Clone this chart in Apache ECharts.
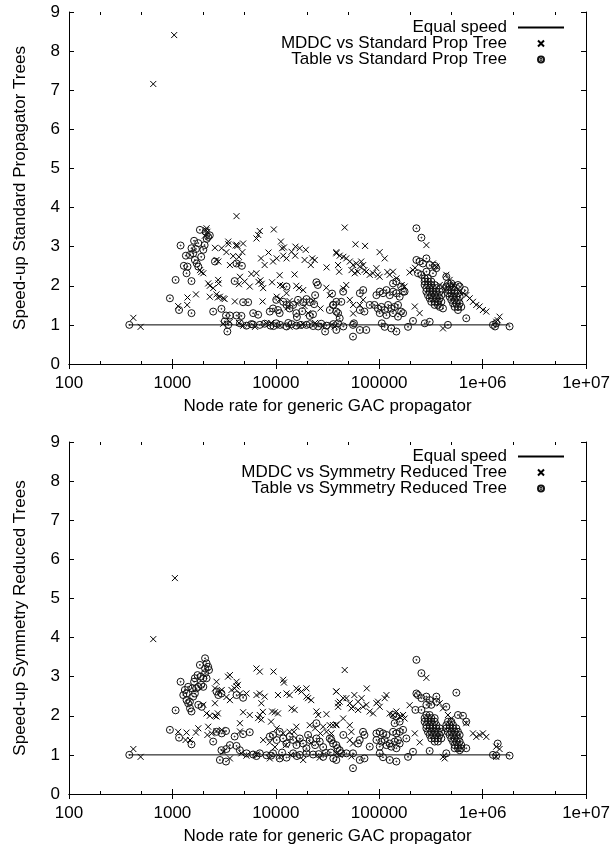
<!DOCTYPE html>
<html>
<head>
<meta charset="utf-8">
<script src="https://cdn.jsdelivr.net/npm/echarts@6/dist/echarts.min.js"></script>
<style>
  html, body { margin: 0; padding: 0; background: #fff; }
  #main { width: 612px; height: 849px; }
</style>
</head>
<body>
<div id="main"></div>
<script>
// tick labels
var xTickLabels = ['100', '1000', '10000', '100000', '1e+06', '1e+07'];
var yTickLabels = ['0', '1', '2', '3', '4', '5', '6', '7', '8', '9'];
var legendTop = ['Equal speed', 'MDDC vs Standard Prop Tree', 'Table vs Standard Prop Tree'];
var legendBottom = ['Equal speed', 'MDDC vs Symmetry Reduced Tree', 'Table vs Symmetry Reduced Tree'];

// equal speed line
var equalLine = [[383, 1], [1824000, 1]];

// top: MDDC vs standard prop tree
var mddcStd = [
  [419,1.18],[493,0.95],[653,7.16],[1040,8.41],[4170,3.78],
  [1137,1.48],[1390,1.51],[1400,1.70],[1690,1.78],
  [2140,3.47],[2180,3.38],[2060,3.28],[2120,3.42],
  [2580,2.97],[2990,2.96],[3470,3.13],[3470,3.06],[4100,3.03],[4250,3.02],[4170,3.05],[4830,3.08],
  [3330,2.86],[3870,2.76],[4400,2.74],[4750,2.86],
  [2670,2.66],[2780,2.62],[3600,2.53],[4300,2.57],
  [1990,2.32],[1850,2.40],[1900,2.35],[2220,2.06],[2300,2.00],[2770,2.15],[2800,2.06],[2480,1.94],
  [2670,1.78],[2880,1.72],[3100,1.68],[3200,1.66],[2750,1.70],[2300,1.72],
  [4020,1.60],[4400,2.04],[4500,2.23],[5000,2.11],[5600,1.98],
  [6500,3.21],[6760,3.30],[7000,3.40],[9570,3.44],
  [7200,2.70],[7800,2.53],[6500,2.32],[6800,2.10],[7100,2.14],[7300,2.05],[7550,1.94],[7450,1.60],
  [9200,2.09],[9400,2.62],[10200,2.70],[10900,2.27],
  [11200,3.13],[11500,2.96],[12000,2.98],[11800,2.77],[12700,2.70],
  [14200,2.87],[15500,3.00],[17000,2.96],[15400,2.77],[19500,2.92],[19000,2.66],
  [22500,2.70],[23800,2.66],[21800,2.53],[38500,2.83],[31000,2.47],[40000,2.53],[41000,2.36],
  [15200,2.29],[11000,2.02],[11700,2.00],[15800,2.00],[16800,1.94],[18400,1.89],
  [12700,1.81],[10200,1.72],[11000,1.66],[13600,1.61],[30800,1.95],[33300,1.76],[27000,1.42],[20500,1.30],
  [13000,1.45],[16000,1.55],[19000,1.48],[23000,1.62],[5800,2.30],[8500,2.85],
  [3100,1.03],[3600,1.08],[4400,1.05],[4850,0.98],[6300,0.95],[8100,1.04],[11000,0.98],[13600,0.95],[18400,1.02],[28700,0.98],
  [9000,1.05],[17000,0.97],[24000,1.05],
  [46400,3.49],[59000,3.06],[73000,3.02],[101000,2.86],[113000,2.70],
  [38500,2.86],[41500,2.77],[45000,2.74],[48000,2.70],
  [52000,2.62],[56000,2.53],[60000,2.57],[65000,2.49],[67000,2.62],[70000,2.53],[75000,2.36],[81000,2.28],
  [87000,2.32],[94000,2.45],[97000,2.28],[101000,2.23],[54000,2.40],[58000,2.32],[62000,2.36],[72000,2.40],
  [120000,2.35],[126000,2.28],[136000,2.36],[147000,2.19],
  [197000,2.34],[212000,2.40],[222000,2.46],[286000,3.04],
  [48000,2.02],[45000,1.93],
  [52000,1.64],[56000,1.51],[65000,1.51],[70000,1.64],[56000,1.29],
  [221000,1.47],[246000,1.30],[414000,0.91],
  [331100,2.57],[357300,2.49],[445700,2.28],[479800,2.15],[517600,2.02],[599800,1.85],[645700,1.81],
  [695000,1.76],[750000,1.68],[807000,1.59],[869000,1.51],[935000,1.47],[1007000,1.38],[1086000,1.34],
  [1459000,1.21],[1400000,1.12],[1355000,1.08],
  [165000,2.02],[176000,1.98],[385000,2.02],[414000,1.98],[430000,1.89],
  [34500,1.00],[37000,0.96]
];

// top: table vs standard prop tree
var tableStd = [
  [383,1.00],[946,1.68],[1160,1.38],[1530,1.30],[1074,2.15],[1530,2.12],[1200,3.03],
  [1370,2.32],[1290,2.51],[1400,2.49],[1350,2.77],[1480,2.79],[1590,2.83],
  [1530,2.96],[1690,2.94],[1620,3.15],[1780,3.09],[1720,2.57],[1650,2.66],
  [1845,3.43],[2100,3.38],[2220,3.25],[2300,3.29],[2150,3.20],
  [2050,3.04],[1990,2.92],[1900,2.74],[1780,2.49],
  [2580,2.62],[4170,2.57],[4700,2.51],[4000,2.12],[4830,1.58],[5400,1.58],
  [2480,1.34],[2980,1.41],[3300,1.24],[3600,1.24],[4170,1.24],[4650,1.23],
  [3210,1.09],[3470,1.00],[3400,0.83],
  [6040,1.30],[6750,1.26],
  [4500,1.04],[5200,0.98],[6000,1.01],[7000,1.00],[7800,1.03],[8900,0.98],[10100,1.04],[11000,1.00],
  [12700,0.96],[14200,1.02],[15800,0.98],[19800,1.00],[21300,1.02],[25700,0.96],[30900,0.98],[36000,1.02],
  [5800,1.02],[9500,0.97],[13200,1.05],[17500,1.00],[23000,0.97],[27500,1.03],[16000,1.20],[18000,1.35],
  [8750,1.34],[9400,1.42],[10500,1.38],[10900,1.30],
  [10100,1.64],[11800,1.59],[12700,1.51],[13600,1.42],[14700,1.51],[15800,1.30],
  [16400,1.64],[18400,1.58],[19800,1.66],[21300,1.58],[23500,1.53],
  [24700,2.09],[25500,2.02],[24000,1.76],
  [21300,1.23],[22900,1.27],
  [30000,0.83],[38500,0.87],[40000,1.04],
  [33300,1.38],[35800,1.51],[38500,1.59],[12700,1.98],
  [229000,3.47],[256000,3.23],[286000,2.70],
  [229000,2.66],[246000,2.62],[265000,2.57],[308000,2.53],[345000,2.51],[357000,2.45],[331000,2.32],
  [286000,2.36],[256000,2.28],[237000,2.32],
  [275000,2.19],[296000,2.19],
  [275000,2.11],[296000,2.11],[319000,2.11],
  [275000,2.02],[296000,2.02],[319000,2.02],[344000,2.02],
  [285800,1.94],[307600,1.94],[331100,1.94],[357300,1.94],
  [285800,1.85],[307600,1.85],[331100,1.85],[357300,1.85],[384600,1.85],
  [296000,1.76],[319000,1.76],[344000,1.76],[370000,1.76],[399000,1.76],
  [307600,1.68],[331100,1.68],[357300,1.68],[384600,1.68],
  [319000,1.59],[344000,1.59],[370000,1.59],[399000,1.59],
  [344000,1.51],[370000,1.51],
  [462000,2.06],[498000,2.06],
  [445700,1.98],[479800,1.98],[517600,1.98],
  [462000,1.89],[498000,1.89],[537000,1.89],
  [462000,1.81],[498000,1.81],[537000,1.81],[578000,1.81],
  [479800,1.72],[517600,1.72],[557200,1.72],[599800,1.72],
  [498000,1.64],[537000,1.64],[578000,1.64],
  [517600,1.55],[557200,1.55],[599800,1.55],
  [537000,1.46],[578000,1.46],[622000,1.46],
  [578000,1.38],
  [445700,2.23],[578000,2.02],[600000,1.98],[672000,1.89],[695000,1.17],[462000,1.00],[384600,1.46],[414000,1.42],
  [308000,1.08],[276000,1.04],[212300,1.10],[190000,0.95],
  [1259000,1.00],[1355000,1.04],[1320000,0.96],[1824000,0.96],
  [146600,0.83],[131000,0.91],[113000,0.95],[106000,1.04],
  [93970,1.76],[101200,1.85],[108900,1.81],[117500,1.89],[126500,1.76],[136100,1.85],[146600,1.81],[157800,1.72],
  [170200,1.85],[90000,1.51],[97000,1.42],[105000,1.46],[113000,1.38],[122000,1.51],[131000,1.42],[141000,1.46],
  [152000,1.51],[163000,1.34],[101200,1.30],[117500,1.25],[136100,1.30],[152000,1.21],[170200,1.30],
  [136100,2.06],[146600,2.11],[163000,1.98],[176000,1.85],
  [35000,1.80],[36000,1.51],[38500,1.34],[40000,1.30],[41500,1.17],[44800,1.85],[43000,1.59],
  [65000,1.81],[70000,1.89],[65000,1.38],[72000,1.34],[81000,1.51],
  [55800,1.00],[57000,1.04],[45000,0.96],[65000,0.87],[75000,0.87],[55800,0.70]
];

// bottom: MDDC vs symmetry reduced tree
var mddcSym = [
  [419,1.15],[493,0.95],[653,3.96],[1057,5.52],
  [1137,1.59],[1370,1.57],[1340,1.38],[1480,1.38],[1690,1.57],[1780,1.68],
  [2220,1.72],[2180,1.51],[2400,1.55],[2670,1.61],[3000,1.64],
  [1990,2.28],[2140,2.06],[2300,2.00],[2580,2.00],[2670,1.98],[2750,2.06],[2580,2.32],
  [2670,2.87],[2580,2.70],[2880,2.62],[3000,2.66],[3330,2.48],[3600,2.40],[3730,2.66],[4000,2.70],
  [4170,2.87],[4300,2.79],[3450,3.00],[3600,3.04],[4170,2.75],[4500,2.57],[5200,2.57],
  [4830,2.09],[5600,2.02],[4500,1.81],
  [6500,3.21],[7000,3.13],[9500,3.13],
  [6500,2.53],[7000,2.57],[7800,2.49],[7250,2.32],[7500,2.10],[7000,2.02],[6750,1.94],[7250,1.90],
  [9200,2.11],[9800,2.09],[10500,2.06],[9000,1.85],
  [10500,2.53],[11800,2.92],[12000,2.85],[12700,2.57],[13600,2.53],
  [14200,2.19],[15200,2.15],
  [15800,2.70],[16400,2.66],[17700,2.62],[19800,2.49],[20500,2.45],[22000,2.40],[19800,2.70],
  [24700,2.11],[25700,2.02],[30900,2.04],[38500,2.62],[40000,2.32],
  [10200,1.68],[11800,1.55],[13600,1.59],[15800,1.72],[15000,1.59],[21300,1.76],[24000,1.68],[28700,1.72],
  [33300,1.76],[38500,1.78],[30900,1.59],[34500,1.55],
  [12500,1.25],[16500,1.35],[22000,1.30],[27000,1.55],[9800,1.20],
  [7550,1.38],[8750,1.32],[4500,1.60],
  [3100,1.08],[3600,0.91],[4650,1.04],[5200,0.98],[6500,1.01],[8750,0.91],[10900,0.95],[14000,1.00],
  [18400,0.87],[26600,0.93],[38500,1.04],
  [46400,3.17],[38500,2.62],[41500,2.36],[40000,2.23],[44800,2.45],[48200,2.45],[51900,2.32],[55800,2.23],
  [57500,2.53],[62500,2.36],[67500,2.45],[69800,2.23],[75200,2.28],[75800,2.70],[80900,2.11],[87300,2.06],
  [94000,2.32],[101200,2.23],[97500,2.36],[113000,2.45],[117500,2.53],[53800,2.19],[62500,2.15],
  [126500,2.06],[136100,2.02],[146600,2.11],[157800,1.98],[170200,2.02],[176000,1.93],
  [197000,2.27],[286000,2.97],[221000,1.55],[246600,1.32],[414000,0.95],[430000,0.91],
  [384600,2.32],[414000,2.19],[462000,2.02],[498000,1.93],
  [695000,1.81],[807000,1.55],[869000,1.46],[935000,1.51],[1007000,1.55],[1086000,1.46],
  [1355000,1.21],[1459000,1.15],[1355000,0.95],
  [44800,1.93],[38500,1.76],[35800,1.76],[51900,1.76],[53800,1.59],[51900,1.38],[55800,1.29],
  [41500,1.00],[53800,0.96]
];

// bottom: table vs symmetry reduced tree
var tableSym = [
  [383,1.00],[946,1.64],[1160,1.44],[1530,1.27],[1074,2.14],[1530,2.11],[1480,2.19],[1200,2.87],
  [1274,2.53],[1370,2.57],[1320,2.66],[1420,2.74],[1370,2.40],[1420,2.32],[1476,2.36],[1589,2.49],
  [1650,2.57],[1560,2.70],[1780,2.28],[1920,2.23],
  [1650,2.96],[1750,3.04],[1620,2.87],[1845,3.30],[2070,3.47],[2140,3.34],[2220,3.25],[2070,3.21],
  [2260,3.17],[2070,3.09],[1990,2.96],[1900,2.79],[1990,2.74],[1780,2.74],[1700,2.70],[1880,3.00],[2140,2.96],
  [2670,2.62],[2780,2.53],[2980,2.57],[4170,2.53],[4830,2.46],
  [3300,1.61],[3000,1.55],[2670,1.59],[2480,1.34],
  [4000,1.47],[4830,1.53],[5600,1.58],
  [2980,1.12],[3330,1.15],[3600,1.25],[4170,1.23],[4490,1.12],
  [2880,0.87],[3300,0.83],
  [5210,1.04],[6040,1.01],[7000,1.04],[8130,0.99],[9400,1.04],[10900,0.91],[12700,0.93],[14720,1.04],
  [17060,1.00],[19770,1.04],[22960,1.01],[28700,0.95],[36000,0.91],[34000,1.06],
  [6500,0.97],[9000,0.98],[11500,1.06],[16000,0.97],[26000,1.02],[30500,1.05],
  [8750,1.47],[9400,1.51],[10200,1.38],[10900,1.59],[11780,1.42],[12680,1.29],[13650,1.47],[14720,1.38],
  [15850,1.25],[17060,1.42],[18370,1.29],[19770,1.17],[20500,1.51],[21330,1.38],[24000,1.25],[24720,1.42],
  [24700,1.81],[26610,1.34],[28710,1.20],[33270,1.42],[35800,1.29],[39500,1.17],
  [229000,3.43],[256000,3.09],[557200,2.59],
  [237000,2.53],[229000,2.57],[256000,2.45],[286000,2.49],[307600,2.40],[357300,2.49],[357300,2.36],
  [319000,2.28],[286000,2.28],[256000,2.15],[224000,2.15],[445700,2.23],[578000,2.02],[645700,2.00],[695000,1.85],
  [285800,2.02],[307600,2.02],
  [275000,1.94],[296000,1.94],[319000,1.94],[344000,1.94],
  [275000,1.85],[296000,1.85],[319000,1.85],[344000,1.85],
  [285800,1.76],[307600,1.76],[331100,1.76],[357300,1.76],
  [285800,1.68],[307600,1.68],[331100,1.68],[357300,1.68],[384600,1.68],
  [296000,1.59],[319000,1.59],[344000,1.59],[370000,1.59],[399000,1.59],
  [307600,1.51],[331100,1.51],[357300,1.51],[384600,1.51],
  [319000,1.42],[344000,1.42],[370000,1.42],[399000,1.42],
  [344000,1.34],[370000,1.34],
  [462000,1.85],[498000,1.85],
  [445700,1.76],[479800,1.76],[517600,1.76],
  [445700,1.68],[479800,1.68],[517600,1.68],[557200,1.68],
  [462000,1.59],[498000,1.59],[537000,1.59],[578000,1.59],
  [479800,1.51],[517600,1.51],[557200,1.51],[599800,1.51],
  [498000,1.42],[537000,1.42],[578000,1.42],
  [517600,1.34],[557200,1.34],[599800,1.34],
  [537000,1.25],[578000,1.25],[622000,1.25],
  [578000,1.17],[622000,1.17],
  [307600,1.10],[212300,1.08],[190000,0.95],[445700,1.04],[537000,1.17],[600000,1.12],[695000,1.17],
  [1259000,1.00],[1355000,0.98],[1824000,0.98],[1400000,1.29],
  [146600,0.83],[126500,0.87],[108900,0.94],[101200,1.04],
  [93970,1.55],[101200,1.59],[108900,1.55],[117500,1.51],[136100,1.59],[146600,1.55],[157800,1.59],[170200,1.64],
  [93970,1.38],[105000,1.34],[113000,1.38],[126500,1.29],[141000,1.34],[152000,1.38],[157800,1.29],
  [101200,1.21],[117500,1.25],[131000,1.21],[146600,1.17],[183200,1.42],
  [136100,2.02],[146600,1.98],[157800,1.85],[141000,1.81],
  [34500,1.38],[38500,1.25],[41500,1.12],[43000,1.04],[45000,1.51],[69800,1.59],[64800,1.38],[72000,1.51],
  [62500,1.29],[81000,1.21],[55800,1.04],[48200,1.04],[64800,0.87],[72000,0.91],[38500,0.87],[55800,0.66]
];

var FONT = '"Liberation Sans", Arial, Helvetica, sans-serif';
var CROSS = 'path://M0,0L6,6M6,0L0,6';
var DOTCIRCLE = 'path://M0,3.5A3.5,3.5,0,1,1,7,3.5A3.5,3.5,0,1,1,0,3.5ZM3,3.5A0.5,0.5,0,1,1,4,3.5A0.5,0.5,0,1,1,3,3.5Z';

// minor ticks at 2x and 5x each decade (in log10 space)
var minorTicks = [];
for (var d = 2; d < 7; d++) {
  minorTicks.push(d + Math.log10(2), d + Math.log10(5));
}

var blackLine = { show: true, lineStyle: { color: '#000', width: 1 } };

function xAxes(grid) {
  return [
    {
      type: 'log', logBase: 10, min: 100, max: 1e7, gridIndex: grid, position: 'bottom',
      name: 'Node rate for generic GAC propagator', nameLocation: 'middle', nameGap: 34,
      nameTextStyle: { fontSize: 17, fontFamily: FONT, color: '#000' },
      axisLine: blackLine,
      axisTick: { inside: true, length: 5, lineStyle: { color: '#000' } },
      axisLabel: {
        margin: 11, fontSize: 17, fontFamily: FONT, color: '#000',
        showMinLabel: true, showMaxLabel: true, hideOverlap: false,
        formatter: function (v) { return xTickLabels[Math.round(Math.log10(v)) - 2]; }
      },
      splitLine: { show: false }
    },
    {
      type: 'log', logBase: 10, min: 100, max: 1e7, gridIndex: grid, position: 'top',
      axisLine: blackLine,
      axisTick: { inside: true, length: 5, lineStyle: { color: '#000' } },
      axisLabel: { show: false }, splitLine: { show: false }
    },
    {
      type: 'value', min: 2, max: 7, gridIndex: grid, position: 'bottom',
      axisLine: { show: false },
      axisTick: { inside: true, length: 3, customValues: minorTicks, lineStyle: { color: '#000' } },
      axisLabel: { show: false }, splitLine: { show: false }
    },
    {
      type: 'value', min: 2, max: 7, gridIndex: grid, position: 'top',
      axisLine: { show: false },
      axisTick: { inside: true, length: 3, customValues: minorTicks, lineStyle: { color: '#000' } },
      axisLabel: { show: false }, splitLine: { show: false }
    }
  ];
}

function yAxes(grid, title) {
  return [
    {
      type: 'value', min: 0, max: 9, interval: 1, gridIndex: grid, position: 'left',
      name: title, nameLocation: 'middle', nameGap: 40, nameRotate: 90,
      nameTextStyle: { fontSize: 17, fontFamily: FONT, color: '#000' },
      axisLine: blackLine,
      axisTick: { inside: true, length: 5, lineStyle: { color: '#000' } },
      axisLabel: {
        margin: 9, fontSize: 17, fontFamily: FONT, color: '#000',
        formatter: function (v) { return yTickLabels[Math.round(v)]; }
      },
      splitLine: { show: false }
    },
    {
      type: 'value', min: 0, max: 9, interval: 1, gridIndex: grid, position: 'right',
      axisLine: blackLine,
      axisTick: { inside: true, length: 5, lineStyle: { color: '#000' } },
      axisLabel: { show: false }, splitLine: { show: false }
    }
  ];
}

function lineSeries(xi, yi) {
  return {
    name: 'Equal speed', type: 'line', xAxisIndex: xi, yAxisIndex: yi,
    data: equalLine, symbol: 'none', silent: true, animation: false,
    lineStyle: { color: '#000', width: 1 },
    itemStyle: { color: '#000', opacity: 0 }, z: 1
  };
}

function crossSeries(name, data, xi, yi) {
  return {
    name: name, type: 'scatter', xAxisIndex: xi, yAxisIndex: yi, data: data,
    symbol: CROSS, symbolSize: 6, symbolKeepAspect: true, silent: true, animation: false,
    itemStyle: { color: 'transparent', borderColor: '#000', borderWidth: 1, opacity: 1 }, z: 2
  };
}

function circleSeries(name, data, xi, yi) {
  return {
    name: name, type: 'scatter', xAxisIndex: xi, yAxisIndex: yi, data: data,
    symbol: DOTCIRCLE, symbolSize: 7, symbolKeepAspect: true, silent: true, animation: false,
    itemStyle: { color: 'transparent', borderColor: '#111', borderWidth: 1, opacity: 1 }, z: 3
  };
}

function legendAt(top, names) {
  return {
    data: names, orient: 'vertical', align: 'right', right: 47, top: top,
    padding: 0, itemGap: -1, itemWidth: 46, itemHeight: 6, selectedMode: false,
    textStyle: { fontSize: 17, fontFamily: FONT, color: '#000', padding: [0, 6, 0, 0] }
  };
}

var chart = echarts.init(document.getElementById('main'), null, { renderer: 'canvas' });

chart.setOption({
  backgroundColor: '#fff',
  animation: false,
  grid: [
    { left: 69, top: 12, width: 517, height: 352, outerBoundsMode: 'none' },
    { left: 69, top: 442, width: 517, height: 352, outerBoundsMode: 'none' }
  ],
  legend: [legendAt(19, legendTop), legendAt(448, legendBottom)],
  xAxis: xAxes(0).concat(xAxes(1)),
  yAxis: yAxes(0, 'Speed-up Standard Propagator Trees').concat(yAxes(1, 'Speed-up Symmetry Reduced Trees')),
  series: [
    lineSeries(0, 0),
    crossSeries(legendTop[1], mddcStd, 0, 0),
    circleSeries(legendTop[2], tableStd, 0, 0),
    lineSeries(4, 2),
    crossSeries(legendBottom[1], mddcSym, 4, 2),
    circleSeries(legendBottom[2], tableSym, 4, 2)
  ]
});
</script>
</body>
</html>
